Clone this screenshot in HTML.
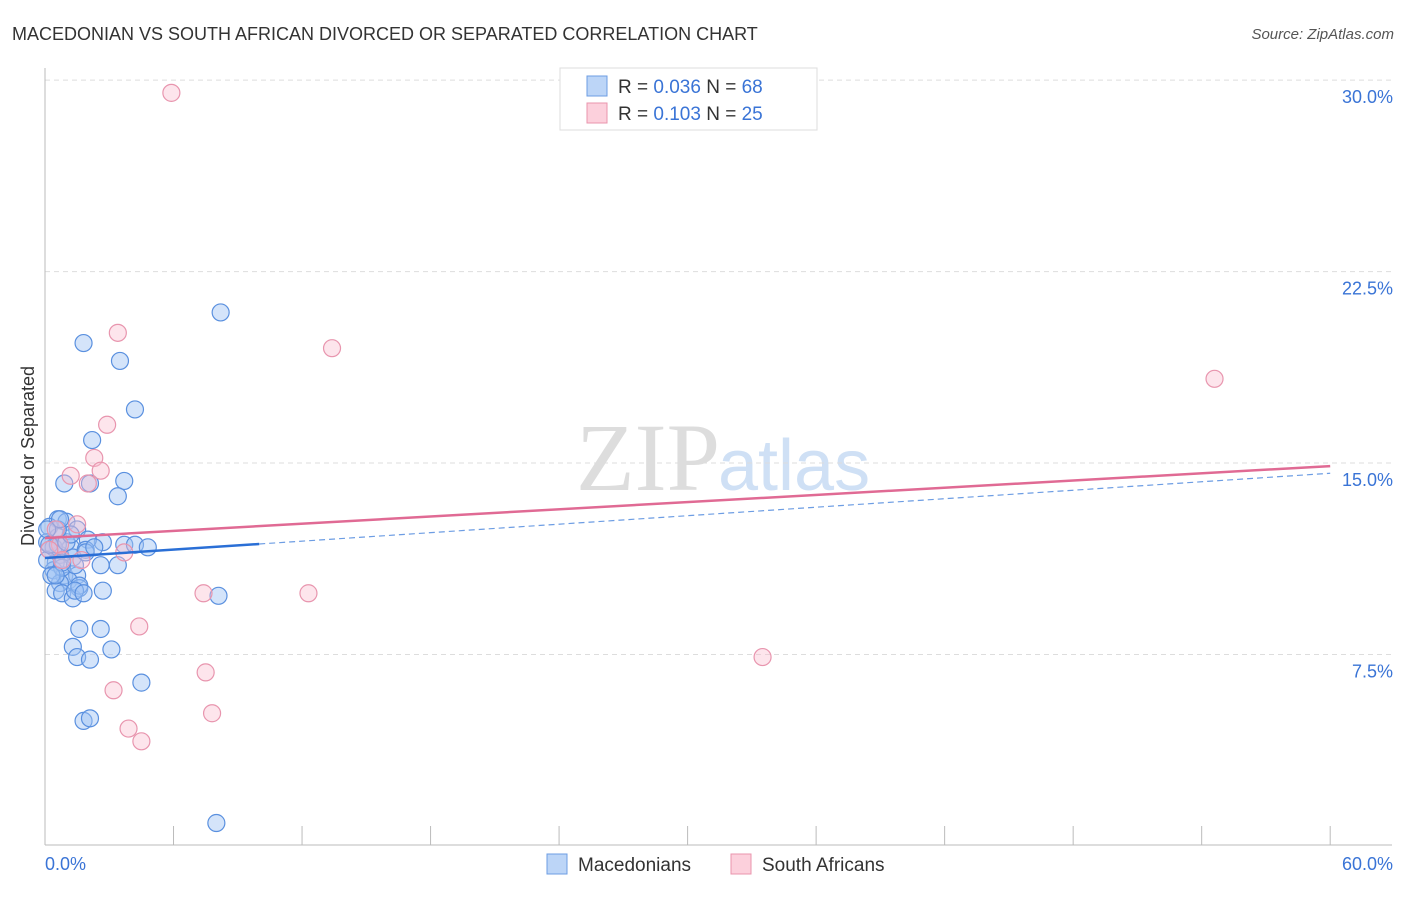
<!DOCTYPE html>
<html><head><meta charset="utf-8"><style>
body{margin:0;background:#fff;font-family:"Liberation Sans",sans-serif;}
</style></head><body>
<svg width="1406" height="892" xmlns="http://www.w3.org/2000/svg">
<text x="12" y="40" font-size="18" fill="#333">MACEDONIAN VS SOUTH AFRICAN DIVORCED OR SEPARATED CORRELATION CHART</text>
<text x="1394" y="39" font-size="15" fill="#555" font-style="italic" text-anchor="end">Source: ZipAtlas.com</text>
<text x="720" y="490" font-size="96" fill="#ddd" text-anchor="end" font-family="Liberation Serif">ZIP</text>
<text x="718" y="490" font-size="72" fill="#cfe0f5">atlas</text>
<g id="grid"></g>
<g id="axes"></g>
<g id="points"></g>
<g id="lines"></g>
<text transform="translate(34,456) rotate(-90)" font-size="18" fill="#333" text-anchor="middle">Divorced or Separated</text>
<text x="45" y="870" font-size="18" fill="#3a74d6">0.0%</text>
<text x="1393" y="870" font-size="18" fill="#3a74d6" text-anchor="end">60.0%</text>
<g>
<rect x="560" y="68" width="257" height="62" fill="#fff" stroke="#ddd"/>
<rect x="587" y="76" width="20" height="20" fill="#bcd5f7" stroke="#6d9de3"/>
<rect x="587" y="103" width="20" height="20" fill="#fcd0dc" stroke="#ea94ad"/>
<text x="618" y="93" font-size="19" fill="#333">R = <tspan fill="#3a74d6">0.036</tspan>   N = <tspan fill="#3a74d6">68</tspan></text>
<text x="618" y="120" font-size="19" fill="#333">R =  <tspan fill="#3a74d6">0.103</tspan>   N = <tspan fill="#3a74d6">25</tspan></text>
</g>
<g>
<rect x="547" y="854" width="20" height="20" fill="#bcd5f7" stroke="#6d9de3"/>
<text x="578" y="871" font-size="19" fill="#333">Macedonians</text>
<rect x="731" y="854" width="20" height="20" fill="#fcd0dc" stroke="#ea94ad"/>
<text x="762" y="871" font-size="19" fill="#333">South Africans</text>
</g>
</svg>
<script>
const yTicks=[7.5,15,22.5,30];
const yTickLabels=["7.5%","15.0%","22.5%","30.0%"];
const blueX=[8.2,1.8,3.5,4.2,2.2,0.9,2.1,3.7,3.4,0.6,1.0,0.2,1.5,0.1,0.6,2.7,2.0,3.7,4.2,4.8,0.2,1.2,1.9,0.7,1.3,0.5,2.6,3.4,0.4,0.9,1.5,1.1,0.7,1.6,0.5,2.7,8.1,0.8,1.3,1.6,0.4,0.1,0.6,1.6,2.6,1.3,1.5,2.1,3.1,4.5,1.8,2.1,8.0,0.8,1.4,1.0,0.3,1.9,2.3,1.2,0.6,0.1,0.8,1.4,0.2,0.5,1.8,0.7];
const blueY=[20.9,19.7,19.0,17.1,15.9,14.2,14.2,14.3,13.7,12.8,12.7,12.5,12.4,11.9,12.1,11.9,12.0,11.8,11.8,11.7,11.6,11.7,11.6,11.4,11.3,11.1,11.0,11.0,10.8,10.6,10.6,10.4,10.3,10.1,10.0,10.0,9.8,9.9,9.7,10.2,11.7,11.2,11.8,8.5,8.5,7.8,7.4,7.3,7.7,6.4,4.9,5.0,0.9,10.9,11.0,11.9,10.6,11.5,11.7,12.2,12.4,12.4,11.1,10.0,11.8,10.6,9.9,12.8];
const pinkX=[5.9,3.4,13.4,54.6,2.9,2.3,2.6,1.2,2.0,1.5,0.5,0.7,0.2,3.7,1.7,7.4,12.3,4.4,7.5,33.5,3.2,7.8,3.9,4.5,0.8];
const pinkY=[29.5,20.1,19.5,18.3,16.5,15.2,14.7,14.5,14.2,12.6,12.4,11.8,11.6,11.5,11.2,9.9,9.9,8.6,6.8,7.4,6.1,5.2,4.6,4.1,11.2];
const blueLine=[0,11.28,10,11.83,60,14.6];
const pinkLine=[0,12.06,60,14.88];
const X=v=>45+v*21.42, Y=v=>846-v*25.53;
const NS="http://www.w3.org/2000/svg";
function mk(tag,at,parent){const e=document.createElementNS(NS,tag);for(const k in at)e.setAttribute(k,at[k]);document.getElementById(parent).appendChild(e);return e;}
yTicks.forEach((t,i)=>{
 const l=mk('line',{x1:45,x2:1392,y1:Y(t),y2:Y(t),stroke:'#ddd','stroke-dasharray':'5,4'},'grid');
 
 
 const tx=mk('text',{x:1393,y:Y(t)+23,'font-size':18,fill:'#3a74d6','text-anchor':'end'},'grid');
 tx.textContent=yTickLabels[i];
 
 
});
const ax=mk('line',{x1:45,x2:45,y1:68,y2:845,stroke:'#bbb'},'axes');


const bx=mk('line',{x1:45,x2:1392,y1:845,y2:845,stroke:'#bbb'},'axes');


for(let i=0;i<=10;i++){const t=mk('line',{x1:X(i*6),x2:X(i*6),y1:826,y2:845,stroke:'#bbb'},'axes');
 
 }
blueX.forEach((v,i)=>{const c=mk('circle',{cx:X(v),cy:Y(blueY[i]),r:8.5,fill:'rgba(160,196,245,0.45)',stroke:'#5a90df','stroke-width':1.2},'points');
 
 });
pinkX.forEach((v,i)=>{const c=mk('circle',{cx:X(v),cy:Y(pinkY[i]),r:8.5,fill:'rgba(250,190,208,0.4)',stroke:'#e895ae','stroke-width':1.2},'points');
 
 });
const b1=mk('line',{x1:X(blueLine[0]),y1:Y(blueLine[1]),x2:X(blueLine[2]),y2:Y(blueLine[3]),stroke:'#2a6fd6','stroke-width':2.5},'lines');


const b2=mk('line',{x1:X(blueLine[2]),y1:Y(blueLine[3]),x2:X(blueLine[4]),y2:Y(blueLine[5]),stroke:'#6d9de3','stroke-width':1.2,'stroke-dasharray':'6,4'},'lines');


const p1=mk('line',{x1:X(pinkLine[0]),y1:Y(pinkLine[1]),x2:X(pinkLine[2]),y2:Y(pinkLine[3]),stroke:'#e06a94','stroke-width':2.5},'lines');


</script>
</body></html>
